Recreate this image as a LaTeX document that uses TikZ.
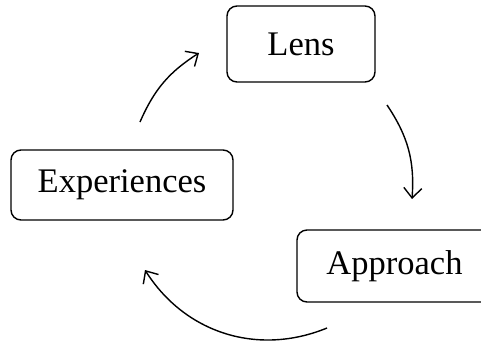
\documentclass[tikz,border=0pt]{standalone}
\usepackage{fontspec}
\setmainfont{Liberation Serif}
\usetikzlibrary{arrows.meta}
\begin{document}
\begin{tikzpicture}[x=1pt,y=-1pt,
  stepbox/.style={draw, line width=1.4pt, rounded corners=10pt, inner sep=0pt, font=\fontsize{34.5}{38}\selectfont},
  flow/.style={line width=1.4pt, -{Straight Barb[length=10pt,width=18pt]}}]
\useasboundingbox (0,0) rectangle (481,341);
\clip (0,0) rectangle (481,341);
\node[stepbox, minimum width=148pt, minimum height=76pt] (lens) at (301,44) {Lens};
\node[stepbox, minimum width=222pt, minimum height=70pt] (exp) at (122,185) {Experiences};
\node[stepbox, minimum width=195pt, minimum height=72pt] (app) at (394.5,266) {Approach};
\coordinate (a1) at (140,122);
\coordinate (b1) at (199,53);
\coordinate (a2) at (387,105);
\coordinate (b2) at (412,199);
\coordinate (a3) at (327,328);
\coordinate (b3) at (145,270);
\draw[flow] (a1) to[bend left=17] (b1);
\draw[flow] (a2) to[bend left=19] (b2);
\draw[flow] (a3) to[bend left=40] (b3);
\end{tikzpicture}
\end{document}
